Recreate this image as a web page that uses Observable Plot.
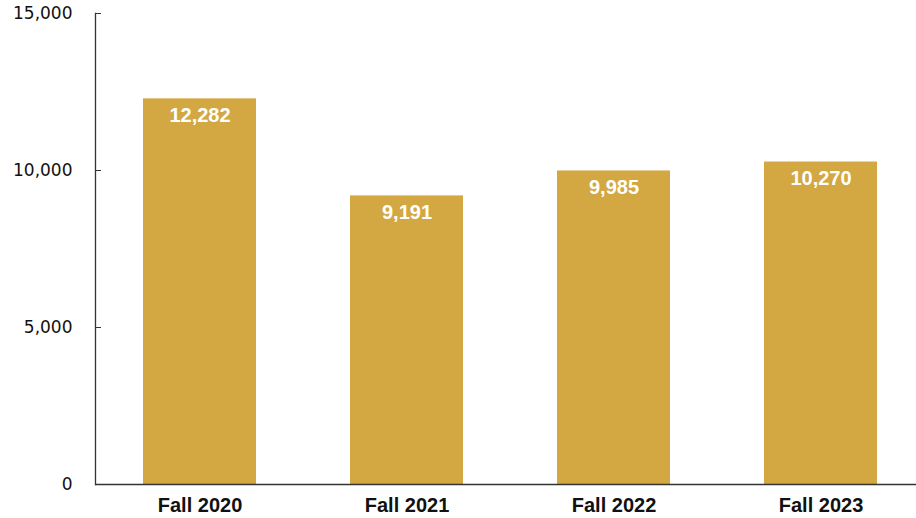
<!DOCTYPE html>
<html>
<head>
<meta charset="utf-8">
<script src="https://cdn.jsdelivr.net/npm/d3@7"></script>
<script src="https://cdn.jsdelivr.net/npm/@observablehq/plot@0.6"></script>
<style>
  html, body { margin: 0; padding: 0; background: #fff; }
  #chart svg { display: block; }
</style>
</head>
<body>
<div id="chart"></div>
<script>
const terms = ["Fall 2020", "Fall 2021", "Fall 2022", "Fall 2023"];
const enrollment = [12282, 9191, 9985, 10270];
const yTicks = [0, 5000, 10000, 15000];

const data = terms.map((t, i) => ({term: t, value: enrollment[i]}));
const fmt = d3.format(",");

const W = 916, H = 518, ML = 95, MR = 0, MT = 13, MB = 34;
const gold = "#D3A742";

const chart = Plot.plot({
  width: W,
  height: H,
  marginLeft: ML,
  marginRight: MR,
  marginTop: MT,
  marginBottom: MB,
  style: {background: "#fff", overflow: "visible"},
  x: {domain: terms, range: [ML, ML + 830], paddingInner: 0.455, paddingOuter: 0.2275, label: null},
  y: {domain: [0, 15000], label: null},
  marks: [
    Plot.barY(data, {x: "term", y: "value", fill: gold}),
    Plot.text(data, {
      x: "term", y: "value", text: d => fmt(d.value),
      dy: 17, fill: "#fff", fontWeight: "bold", fontSize: 20,
      fontFamily: "Liberation Sans, Arial, sans-serif", lineAnchor: "middle"
    }),
    Plot.ruleY(yTicks, {y: d => d, stroke: "#333", insetRight: W - ML - MR - 6}),
    Plot.ruleY([0], {stroke: "#333", strokeWidth: 1.3}),
    Plot.frame({anchor: "left", stroke: "#333", strokeWidth: 1.3}),
    Plot.axisY({
      ticks: yTicks, tickSize: 0, tickPadding: 23, tickFormat: fmt,
      fontSize: 17, fontFamily: "DejaVu Sans, Verdana, sans-serif",
      fill: "#111", label: null
    }),
    Plot.axisX({
      tickSize: 0, tickPadding: 13, fontSize: 20, fontWeight: "bold",
      fontFamily: "Liberation Sans, Arial, sans-serif", fill: "#111", label: null
    })
  ]
});
document.getElementById("chart").appendChild(chart);
</script>
</body>
</html>
